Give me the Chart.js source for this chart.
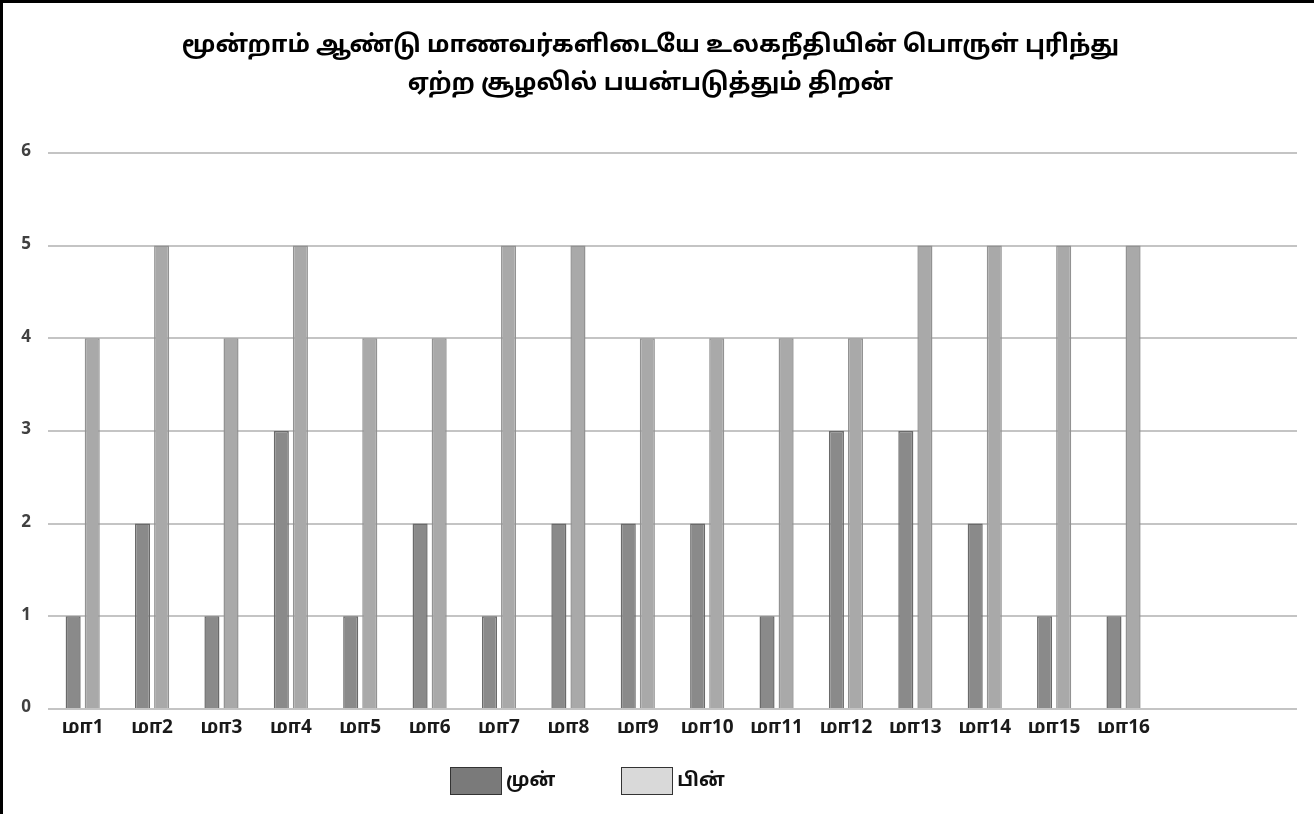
<!DOCTYPE html>
<html>
<head>
<meta charset="utf-8">
<script src="https://cdn.jsdelivr.net/npm/chart.js@4/dist/chart.umd.min.js"></script>
<style>
  html, body { margin: 0; padding: 0; background: #fff; }
  #wrap { position: relative; width: 1314px; height: 814px; }
  #frame { position: absolute; left: 0; top: 0; right: 0; bottom: 0;
           border-top: 3px solid #000; border-left: 3px solid #000; pointer-events: none; }
  #legend { position: absolute; top: 767px; left: 450px; display: flex;
            font: bold 19px "Noto Sans Tamil", "Lohit Tamil", "Noto Sans", sans-serif; color: #111; }
  .item { display: flex; align-items: center; margin-right: 66px; }
  .box { width: 50px; height: 26px; border: 1.5px solid #333; margin-right: 4px; }
</style>
</head>
<body>
<div id="wrap">
  <canvas id="c" width="1314" height="814"></canvas>
  <div id="legend"></div>
  <div id="frame"></div>
</div>
<script>
// 16 students (மா = மாணவர்), two trailing empty slots as in the original axis
const categories = ['மா1', 'மா2', 'மா3', 'மா4', 'மா5', 'மா6', 'மா7', 'மா8',
                    'மா9', 'மா10', 'மா11', 'மா12', 'மா13', 'மா14', 'மா15', 'மா16', '', ''];
const before = [1, 2, 1, 3, 1, 2, 1, 2, 2, 2, 1, 3, 3, 2, 1, 1, null, null];
const after  = [4, 5, 4, 5, 4, 4, 5, 5, 4, 4, 4, 4, 5, 5, 5, 5, null, null];
const yTicks = [0, 1, 2, 3, 4, 5, 6];
const seriesNames = ['முன்', 'பின்'];
const titleLines = ['மூன்றாம் ஆண்டு மாணவர்களிடையே உலகநீதியின் பொருள் புரிந்து',
                    'ஏற்ற சூழலில் பயன்படுத்தும் திறன்'];

const FONT = '"Noto Sans Tamil", "Lohit Tamil", "Noto Sans", sans-serif';
const legendFill = ['#7a7a7a', '#d9d9d9'];

new Chart(document.getElementById('c'), {
  type: 'bar',
  data: {
    labels: categories,
    datasets: [
      { label: seriesNames[0], data: before, backgroundColor: '#8a8a8a', borderColor: '#6a6a6a', borderWidth: 1.5,
        categoryPercentage: 0.55, barPercentage: 0.79 },
      { label: seriesNames[1], data: after, backgroundColor: '#a9a9a9', borderColor: '#929292', borderWidth: 1.5,
        categoryPercentage: 0.55, barPercentage: 0.79 },
    ],
  },
  options: {
    responsive: false,
    animation: false,
    layout: { padding: { left: 4, right: 17, top: 0, bottom: 75 } },
    plugins: {
      legend: { display: false },
      tooltip: { enabled: false },
      title: {
        display: true, text: titleLines, color: '#000',
        font: { family: FONT, size: 24, weight: 'bold', lineHeight: 1.6 },
        padding: { top: 28, bottom: 48 },
      },
    },
    scales: {
      x: {
        grid: { display: false },
        border: { display: false },
        ticks: { color: '#1a1a1a', font: { family: FONT, size: 19, weight: 'bold' }, padding: 1,
                 maxRotation: 0, autoSkip: false },
        afterFit(scale) { scale.height = 30; },
      },
      y: {
        min: 0, max: 6,
        afterBuildTicks(scale) { scale.ticks = yTicks.map(v => ({ value: v })); },
        grid: { color: '#c4c4c4', lineWidth: 2, drawTicks: false },
        border: { display: false },
        ticks: { color: '#404040', font: { family: FONT, size: 17, weight: 'bold' }, padding: 17 },
        afterFit(scale) { scale.width = 44; },
      },
    },
  },
});

// HTML legend (the original sits left of centre with lighter swatches)
const legendEl = document.getElementById('legend');
seriesNames.forEach((name, i) => {
  const item = document.createElement('div');
  item.className = 'item';
  item.innerHTML = `<span class="box" style="background:${legendFill[i]}"></span><span>${name}</span>`;
  legendEl.appendChild(item);
});
</script>
</body>
</html>
